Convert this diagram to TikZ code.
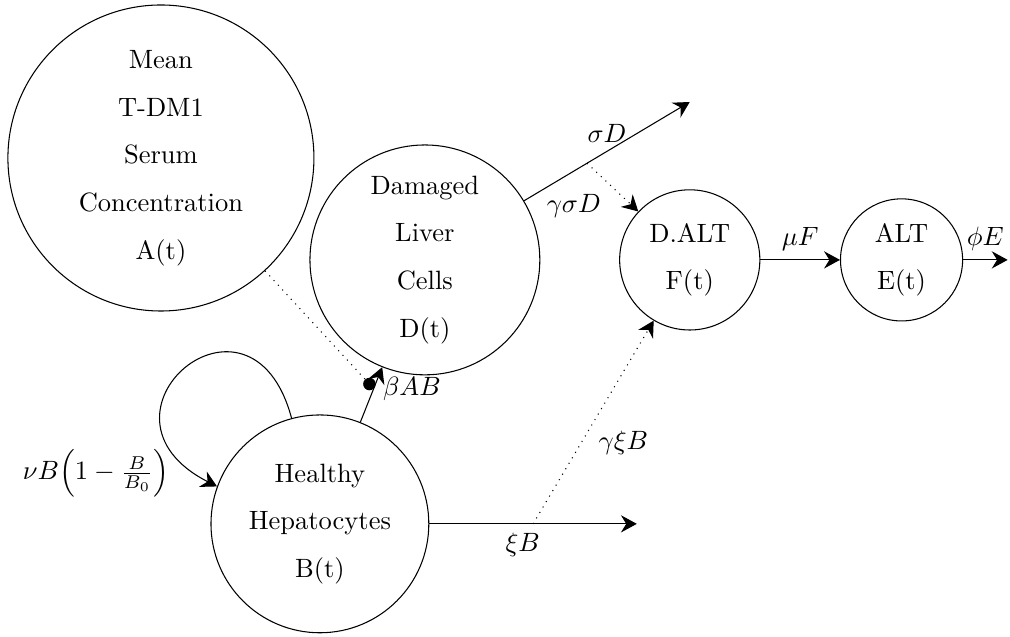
\documentclass[tikz,border=0pt]{standalone}
\usepackage{tikz}
\usetikzlibrary{arrows,arrows.meta}

\begin{document}
\begin{tikzpicture}[->,>={Stealth[length=6pt,width=6.5pt,inset=2pt]},node distance=2.81cm]
        \tikzstyle{compartment}=[circle,draw=black,text=black,align=center,inner sep=0pt]
        \useasboundingbox (0,0) rectangle (13.40,-8.45);
        \node[compartment,minimum size=4.06cm] (A) at (2.135,-2.096) {Mean\\[6pt] T-DM1\\[6pt] Serum\\[6pt] Concentration\\[6pt] A(t)};
        \node[compartment,minimum size=3.05cm] (D) at (5.637,-3.448) {Damaged\\[6pt] Liver\\[6pt] Cells\\[6pt] D(t)};
        \node[compartment,minimum size=2.89cm] (B) at (4.244,-6.950) {Healthy\\[6pt] Hepatocytes\\[6pt] B(t)};
        \node[compartment,minimum size=1.86cm] (F) at (9.151,-3.448) {D.ALT\\[6pt] F(t)};
        \node[compartment,minimum size=1.62cm] (E) [right of=F] {ALT\\[6pt] E(t)};
        \coordinate (sigmaend) at (9.151,-1.353);
        \coordinate (xiend) at (8.449,-6.950);
        \coordinate (phiend) at (13.369,-3.448);
    \path
        (B.105) edge[out=105,in=153,looseness=4] node[pos=0.92,left=4pt,yshift=-2pt] (lnu) {$\nu B\Big(1-\frac{B}{B_0}\Big)$} (B.160)
        (F) edge node[above] (lmu) {$\mu F$} (E)
        (E) edge node[above] (lphi) {$\phi E$} (phiend);
    \draw (B) -- coordinate[pos=0.61] (bAB) node[pos=0.61,right] (lbeta) {$\beta AB$} (D);
    \draw (D) -- coordinate[pos=0.38] (gsD) node[midway,above] (lsigma) {$\sigma D$} (sigmaend);
    \draw (B) -- coordinate[midway] (gxB) node[pos=0.45,below] (lxi) {$\xi B$} (xiend);
    \draw[dotted,-*] (A) -- (bAB);
    \draw[dotted] (gsD) -- node[pos=0.45,below left] (lgsigma) {$\gamma\sigma D$} (F);
    \draw[dotted] (gxB) -- node[pos=0.4,right=3pt] (lgxi) {$\gamma\xi B$} (F);
    \end{tikzpicture}
\end{document}
